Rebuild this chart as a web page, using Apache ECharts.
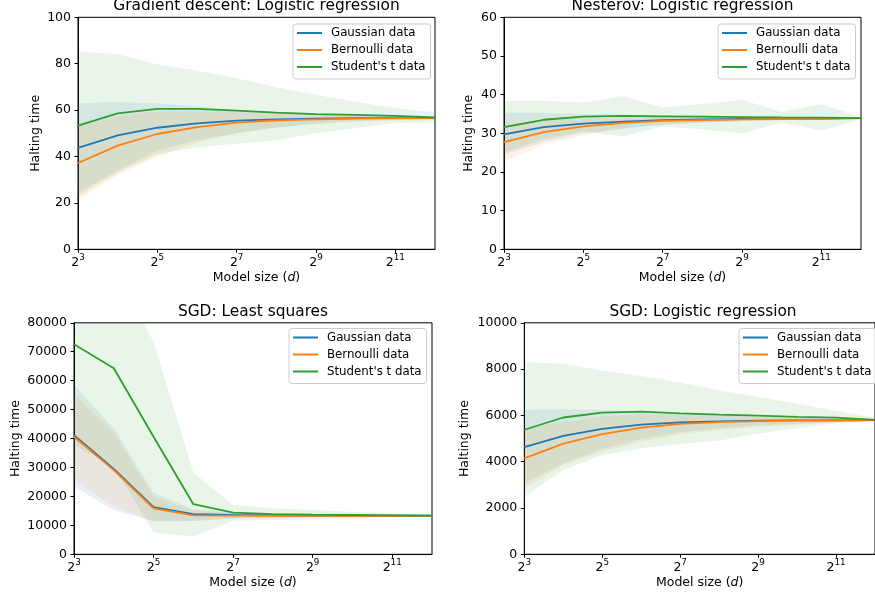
<!DOCTYPE html>
<html>
<head>
<meta charset="utf-8">
<script src="https://cdn.jsdelivr.net/npm/echarts@6/dist/echarts.min.js"></script>
<style>
html,body{margin:0;padding:0;background:#fff;}
#chart{width:875px;height:596px;}
</style>
</head>
<body>
<div id="chart"></div>
<script>
// ---- data ----
const modelSizes = [8, 16, 32, 64, 128, 256, 512, 1024, 2048, 4096];
const seriesNames = ['Gaussian data', 'Bernoulli data', "Student's t data"];
const panelTitles = ['Gradient descent: Logistic regression', 'Nesterov: Logistic regression', 'SGD: Least squares', 'SGD: Logistic regression'];

// Gradient descent: Logistic regression
const gdGaussMean  = [43.7, 49.1, 52.4, 54.3, 55.5, 56.0, 56.3, 56.5, 56.5, 56.6];
const gdGaussUpper = [63.0, 63.5, 63.0, 61.5, 60.0, 59.0, 58.3, 57.8, 57.3, 57.1];
const gdGaussLower = [24.5, 34.0, 42.5, 47.0, 50.0, 52.5, 54.2, 55.2, 55.7, 56.0];
const gdBernMean   = [37.2, 44.7, 49.7, 52.7, 54.6, 55.6, 56.0, 56.3, 56.5, 56.6];
const gdBernUpper  = [53.0, 57.5, 59.5, 59.5, 59.2, 58.7, 58.2, 57.8, 57.3, 57.1];
const gdBernLower  = [21.2, 32.0, 40.0, 46.0, 50.0, 52.5, 54.0, 55.0, 55.6, 56.0];
const gdStudMean   = [53.3, 58.6, 60.5, 60.5, 59.8, 58.9, 58.3, 57.9, 57.5, 56.8];
const gdStudUpper  = [85.2, 84.2, 79.7, 77.0, 73.7, 69.8, 66.5, 63.6, 60.8, 59.1];
const gdStudLower  = [23.0, 33.0, 41.0, 44.0, 45.5, 47.0, 50.0, 52.2, 54.5, 54.7];

// Nesterov: Logistic regression
const nsGaussMean  = [29.7, 31.6, 32.5, 33.0, 33.4, 33.6, 33.7, 33.8, 33.8, 33.9];
const nsGaussUpper = [35.3, 35.3, 35.0, 34.8, 34.5, 34.3, 34.2, 34.1, 34.0, 34.0];
const nsGaussLower = [24.5, 27.8, 30.0, 31.2, 32.2, 32.8, 33.2, 33.5, 33.6, 33.8];
const nsBernMean   = [27.7, 30.3, 31.8, 32.7, 33.2, 33.4, 33.6, 33.7, 33.8, 33.9];
const nsBernUpper  = [32.5, 33.5, 33.8, 34.0, 34.0, 34.0, 34.0, 34.0, 34.0, 34.0];
const nsBernLower  = [22.8, 27.0, 29.5, 31.3, 32.3, 32.8, 33.2, 33.4, 33.6, 33.8];
const nsStudMean   = [31.6, 33.5, 34.3, 34.5, 34.4, 34.3, 34.2, 34.1, 34.05, 33.9];
const nsStudUpper  = [38.4, 38.4, 37.9, 39.6, 36.7, 37.6, 38.6, 35.6, 37.5, 34.2];
const nsStudLower  = [25.0, 28.5, 30.5, 29.2, 31.8, 31.0, 30.0, 32.8, 30.7, 33.6];

// SGD: Least squares
const lsGaussMean  = [41200, 29500, 16300, 13900, 13600, 13450, 13400, 13380, 13350, 13330];
const lsGaussUpper = [58500, 43500, 21300, 15500, 14700, 14200, 13900, 13700, 13550, 13400];
const lsGaussLower = [23400, 15300, 11300, 11500, 12400, 12700, 12900, 13000, 13150, 13250];
const lsBernMean   = [40600, 29100, 15900, 13450, 13350, 13330, 13320, 13310, 13300, 13300];
const lsBernUpper  = [55400, 42000, 20000, 15000, 14400, 14000, 13800, 13650, 13500, 13400];
const lsBernLower  = [25700, 16500, 11300, 11500, 12400, 12700, 12900, 13000, 13150, 13250];
const lsStudMean   = [72600, 64300, 40600, 17300, 14400, 13900, 13700, 13580, 13470, 13350];
const lsStudUpper  = [100000, 99700, 73400, 28300, 17000, 15900, 15300, 14700, 14150, 13580];
const lsStudLower  = [37800, 30300, 7500, 6100, 11600, 11850, 12100, 12450, 12800, 13120];

// SGD: Logistic regression
const sgGaussMean  = [4630, 5120, 5420, 5600, 5700, 5740, 5770, 5785, 5785, 5800];
const sgGaussUpper = [6230, 6270, 6230, 6130, 6020, 5980, 5950, 5900, 5870, 5850];
const sgGaussLower = [3070, 3930, 4550, 4980, 5270, 5440, 5550, 5640, 5700, 5755];
const sgBernMean   = [4140, 4780, 5190, 5470, 5630, 5710, 5755, 5785, 5785, 5800];
const sgBernUpper  = [5450, 5700, 5950, 6050, 6050, 6000, 5950, 5900, 5870, 5850];
const sgBernLower  = [2850, 3860, 4430, 4860, 5180, 5370, 5510, 5610, 5700, 5755];
const sgStudMean   = [5380, 5910, 6120, 6160, 6090, 6030, 5990, 5940, 5900, 5810];
const sgStudUpper  = [8300, 8230, 7940, 7700, 7420, 7090, 6790, 6500, 6190, 5900];
const sgStudLower  = [2490, 3640, 4290, 4580, 4760, 4920, 5220, 5440, 5660, 5750];

const yMax = [100, 60, 80000, 10000];
const yInterval = [20, 10, 10000, 2000];

// ---- styling / layout ----
const colors = ['#1f77b4', '#ff7f0e', '#2ca02c'];
const FONT = 'DejaVu Sans';
const grids = [
  {left: 78, top: 17.3, width: 357, height: 232},
  {left: 504, top: 17.3, width: 357, height: 232},
  {left: 74, top: 322.8, width: 358, height: 231.5},
  {left: 524.3, top: 322.8, width: 358, height: 231.5}
];
const yNameGap = [36, 29, 52, 53];
const legendPos = [
  {left: 293, top: 24},
  {left: 718, top: 24},
  {left: 289, top: 328.5},
  {left: 739, top: 328.5}
];
const titlePos = [
  {x: 256.5, y: -3},
  {x: 682.5, y: -3},
  {x: 253, y: 302.5},
  {x: 703, y: 302.5}
];

const panels = [
  [[gdGaussMean, gdGaussUpper, gdGaussLower], [gdBernMean, gdBernUpper, gdBernLower], [gdStudMean, gdStudUpper, gdStudLower]],
  [[nsGaussMean, nsGaussUpper, nsGaussLower], [nsBernMean, nsBernUpper, nsBernLower], [nsStudMean, nsStudUpper, nsStudLower]],
  [[lsGaussMean, lsGaussUpper, lsGaussLower], [lsBernMean, lsBernUpper, lsBernLower], [lsStudMean, lsStudUpper, lsStudLower]],
  [[sgGaussMean, sgGaussUpper, sgGaussLower], [sgBernMean, sgBernUpper, sgBernLower], [sgStudMean, sgStudUpper, sgStudLower]]
];

const series = [];
panels.forEach((panel, p) => {
  // bands first
  panel.forEach((s, k) => {
    const upper = s[1], lower = s[2];
    const stackId = 'band_' + p + '_' + k;
    series.push({
      type: 'line', name: '_lo' + p + k, xAxisIndex: p, yAxisIndex: p,
      stack: stackId, data: lower, symbol: 'none', silent: true,
      lineStyle: {width: 0, opacity: 0}, z: 1
    });
    series.push({
      type: 'line', name: '_hi' + p + k, xAxisIndex: p, yAxisIndex: p,
      stack: stackId, data: upper.map((u, i) => u - lower[i]), symbol: 'none', silent: true,
      lineStyle: {width: 0, opacity: 0},
      areaStyle: {color: colors[k], opacity: 0.1}, z: 1
    });
  });
  // mean lines
  panel.forEach((s, k) => {
    series.push({
      type: 'line', name: seriesNames[k], xAxisIndex: p, yAxisIndex: p,
      data: s[0], symbol: 'none', showSymbol: false,
      color: colors[k],
      lineStyle: {color: colors[k], width: 1.8}, z: 3
    });
  });
});

const option = {
  animation: false,
  backgroundColor: '#fff',
  textStyle: {fontFamily: FONT},
  title: panelTitles.map((t, p) => ({
    text: t, left: titlePos[p].x, top: titlePos[p].y, textAlign: 'center', padding: 0,
    textStyle: {fontFamily: FONT, fontSize: 15.4, fontWeight: 'normal', color: '#000', lineHeight: 18}
  })),
  grid: grids.map(g => Object.assign({show: true, borderColor: '#000', borderWidth: 1, backgroundColor: 'transparent', containLabel: false}, g)),
  legend: legendPos.map((pos, p) => ({
    orient: 'vertical', left: pos.left, top: pos.top,
    data: seriesNames.map(n => ({name: n, icon: 'rect'})),
    itemWidth: 25, itemHeight: 2, itemGap: 3,
    padding: [2, 5, 5, 4],
    backgroundColor: 'rgba(255,255,255,0.8)', borderColor: '#cccccc', borderWidth: 1, borderRadius: 3,
    selectedMode: false,
    textStyle: {fontFamily: FONT, fontSize: 11.8, color: '#000', lineHeight: 14, padding: [0, 0, 0, 4]}
  })),
  xAxis: grids.map((g, p) => ({
    type: 'category', gridIndex: p, data: modelSizes, boundaryGap: false,
    name: 'Model size ({i|d})', nameLocation: 'middle', nameGap: 22,
    nameTextStyle: {fontFamily: FONT, fontSize: 12.5, color: '#000', verticalAlign: 'top',
      rich: {i: {fontFamily: FONT, fontSize: 12.5, fontStyle: 'italic', color: '#000'}}},
    axisLine: {show: true, lineStyle: {color: '#000', width: 1}},
    axisTick: {show: true, interval: 1, length: 3.5, lineStyle: {color: '#000', width: 1}},
    splitLine: {show: false},
    axisLabel: {
      interval: 1, margin: 4, color: '#000',
      formatter: v => '{b|2}{s|' + Math.round(Math.log2(Number(v))) + '}',
      rich: {
        b: {fontFamily: FONT, fontSize: 12.5, color: '#000', lineHeight: 16, verticalAlign: 'bottom'},
        s: {fontFamily: FONT, fontSize: 8.8, color: '#000', lineHeight: 9, verticalAlign: 'top'}
      }
    }
  })),
  yAxis: grids.map((g, p) => ({
    type: 'value', gridIndex: p, min: 0, max: yMax[p], interval: yInterval[p],
    name: 'Halting time', nameLocation: 'middle', nameGap: yNameGap[p], nameRotate: 90,
    nameTextStyle: {fontFamily: FONT, fontSize: 12.5, color: '#000'},
    axisLine: {show: true, lineStyle: {color: '#000', width: 1}},
    axisTick: {show: true, length: 3.5, lineStyle: {color: '#000', width: 1}},
    splitLine: {show: false},
    axisLabel: {fontFamily: FONT, fontSize: 12.5, color: '#000', margin: 7, formatter: v => String(v)}
  })),
  series: series
};

const chart = echarts.init(document.getElementById('chart'), null, {renderer: 'canvas'});
chart.setOption(option);
</script>
</body>
</html>
